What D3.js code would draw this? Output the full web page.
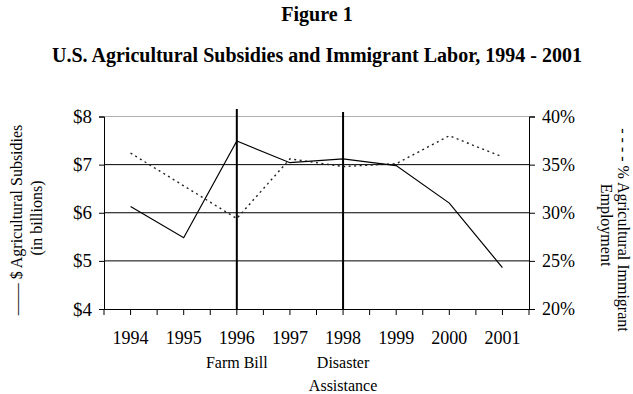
<!DOCTYPE html>
<html>
<head>
<meta charset="utf-8">
<script src="https://cdn.jsdelivr.net/npm/d3@7"></script>
<style>
  html, body { margin: 0; padding: 0; background: #fff; }
  svg { display: block; }
  text { font-family: "Liberation Serif", "Times New Roman", serif; fill: #000; }
</style>
</head>
<body>
<svg id="chart" width="633" height="394"></svg>
<script>
// Years on the category axis
const years = ["1994", "1995", "1996", "1997", "1998", "1999", "2000", "2001"];
// U.S. agricultural subsidies, billions of dollars (left axis)
const subsidies = [6.13, 5.48, 7.49, 7.04, 7.12, 6.98, 6.20, 4.86];
// Share of agricultural employment held by immigrants, percent (right axis)
const immigrantShare = [36.2, 32.8, 29.4, 35.6, 34.8, 35.1, 38.0, 35.8];
// Tick labels
const leftTicks = [4, 5, 6, 7, 8];
const rightTicks = [20, 25, 30, 35, 40];
// Policy events marked with vertical rules
const eventYears = ["1996", "1998"];
const eventLabels = [["Farm Bill"], ["Disaster", "Assistance"]];

const svg = d3.select("#chart");
const plotLeft = 104, plotRight = 529, plotTop = 116.5, plotBottom = 309;

const x = d3.scaleBand().domain(years).range([plotLeft, plotRight]).padding(0);
const cx = d => x(d) + x.bandwidth() / 2;
const yL = d3.scaleLinear().domain([4, 8]).range([plotBottom, plotTop]);
const yR = d3.scaleLinear().domain([20, 40]).range([plotBottom, plotTop]);

// Titles
svg.append("text").attr("x", 317).attr("y", 21).attr("text-anchor", "middle")
  .style("font-weight", "bold").style("font-size", "20px").text("Figure 1");
svg.append("text").attr("x", 317).attr("y", 62).attr("text-anchor", "middle")
  .style("font-weight", "bold").style("font-size", "20px")
  .text("U.S. Agricultural Subsidies and Immigrant Labor, 1994 - 2001");

// Horizontal gridlines at the left-axis ticks
svg.append("g").selectAll("line").data(leftTicks.filter(d => d > 4)).join("line")
  .attr("x1", plotLeft).attr("x2", plotRight)
  .attr("y1", d => yL(d)).attr("y2", d => yL(d))
  .attr("stroke", d => d === 8 ? "#b0b0b0" : "#000").attr("stroke-width", 1);

// Left axis
const axL = svg.append("g").attr("transform", `translate(${plotLeft},0)`)
  .call(d3.axisLeft(yL).tickValues(leftTicks).tickFormat(d => "$" + d).tickSizeOuter(0).tickSize(5).tickPadding(7));
// Right axis
const axR = svg.append("g").attr("transform", `translate(${plotRight},0)`)
  .call(d3.axisRight(yR).tickValues(rightTicks).tickFormat(d => d + "%").tickSizeOuter(0).tickSize(6).tickPadding(7));
// Bottom axis: labels at band centers, ticks at both boundaries and centers
const axB = svg.append("g").attr("transform", `translate(0,${plotBottom})`)
  .call(d3.axisBottom(x).tickSize(0).tickSizeOuter(0).tickPadding(22));
const bottomTicks = [];
years.forEach(d => { bottomTicks.push(x(d)); bottomTicks.push(cx(d)); });
bottomTicks.push(plotRight);
axB.selectAll("line.minor").data(bottomTicks).join("line").attr("class", "minor")
  .attr("x1", d => d).attr("x2", d => d).attr("y1", 0).attr("y2", 6)
  .attr("stroke", "#000");

[axL, axR, axB].forEach(g => {
  g.select(".domain").attr("stroke", "#000").attr("stroke-width", 1);
  g.selectAll(".tick line").attr("stroke", "#000");
  g.selectAll(".tick text").style("font-family", '"Liberation Serif", serif')
    .style("font-size", "18px").attr("fill", "#000");
});
axL.selectAll(".tick text").style("font-size", "19px");

// Event rules
svg.append("g").selectAll("line").data(eventYears).join("line")
  .attr("x1", d => cx(d)).attr("x2", d => cx(d))
  .attr("y1", (d, i) => i === 0 ? 109 : 112).attr("y2", plotBottom)
  .attr("stroke", "#000").attr("stroke-width", 2);
// Event labels
const ev = svg.append("g").selectAll("text").data(eventYears).join("text")
  .attr("x", d => cx(d)).attr("y", 368).attr("text-anchor", "middle")
  .style("font-size", "16px");
ev.selectAll("tspan").data((d, i) => eventLabels[i]).join("tspan")
  .attr("x", function () { return d3.select(this.parentNode).attr("x"); })
  .attr("dy", (d, j) => j === 0 ? 0 : 23).text(d => d);

// Series lines
const lineL = d3.line().x((d, i) => cx(years[i])).y(d => yL(d));
const lineR = d3.line().x((d, i) => cx(years[i])).y(d => yR(d));
svg.append("path").datum(immigrantShare).attr("d", lineR)
  .attr("fill", "none").attr("stroke", "#222").attr("stroke-width", 1.4)
  .attr("stroke-dasharray", "2,3.5");
svg.append("path").datum(subsidies).attr("d", lineL)
  .attr("fill", "none").attr("stroke", "#000").attr("stroke-width", 1.2);

// Axis titles with legend keys
const lt = svg.append("g").style("font-size", "16px");
lt.append("text").attr("transform", "translate(22,220) rotate(-90)")
  .attr("text-anchor", "middle").text("—— $ Agricultural Subsidies");
lt.append("text").attr("transform", "translate(42,218) rotate(-90)")
  .attr("text-anchor", "middle").text("(in billions)");
const rt = svg.append("g").style("font-size", "16px");
rt.append("text").attr("transform", "translate(618,230) rotate(90)")
  .attr("text-anchor", "middle").text("- - - - % Agricultural Immigrant");
rt.append("text").attr("transform", "translate(601,225) rotate(90)")
  .attr("text-anchor", "middle").text("Employment");
</script>
</body>
</html>
